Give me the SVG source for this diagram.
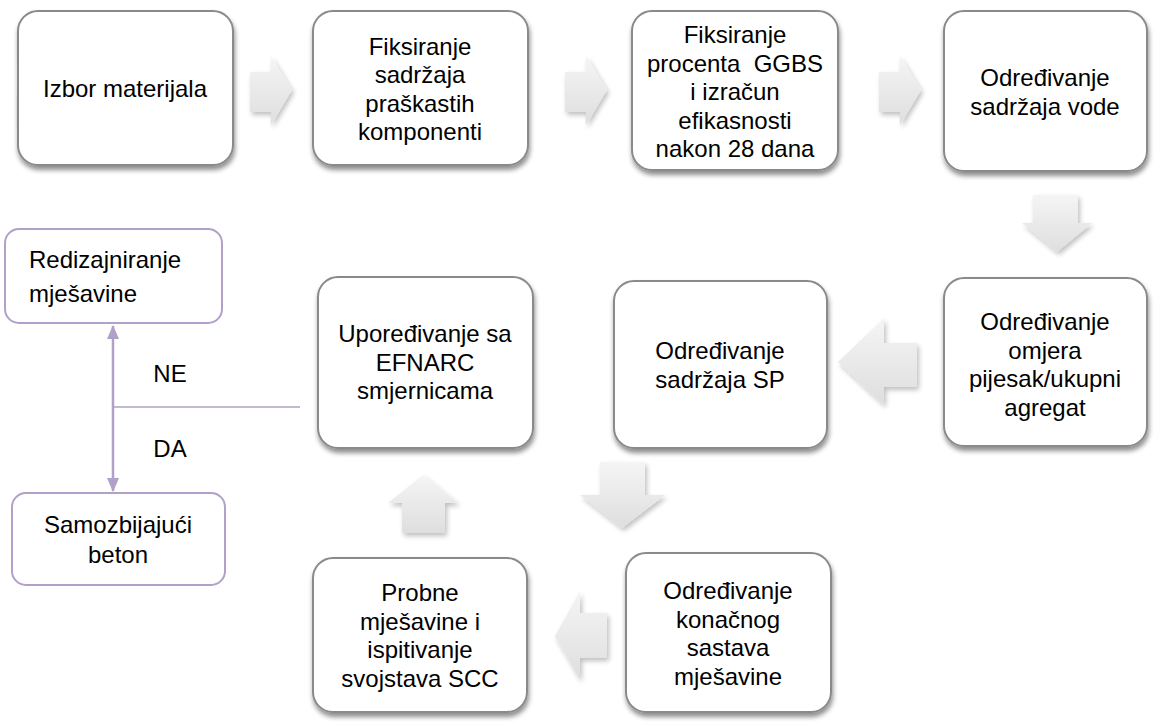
<svg xmlns="http://www.w3.org/2000/svg" width="1165" height="726" viewBox="0 0 1165 726">
<defs>
<filter id="sh" x="-10%" y="-10%" width="125%" height="130%">
<feGaussianBlur in="SourceAlpha" stdDeviation="2.5"/>
<feOffset dx="1" dy="4"/>
<feComponentTransfer><feFuncA type="linear" slope="0.45"/></feComponentTransfer>
<feMerge><feMergeNode/><feMergeNode in="SourceGraphic"/></feMerge>
</filter>
<filter id="ash" x="-20%" y="-20%" width="150%" height="150%">
<feGaussianBlur in="SourceAlpha" stdDeviation="2.5"/>
<feOffset dx="2" dy="3"/>
<feComponentTransfer><feFuncA type="linear" slope="0.25"/></feComponentTransfer>
<feMerge><feMergeNode/><feMergeNode in="SourceGraphic"/></feMerge>
</filter>
<linearGradient id="ag" x1="0" y1="0" x2="0" y2="1">
<stop offset="0" stop-color="#f5f5f5"/>
<stop offset="1" stop-color="#dedede"/>
</linearGradient>
<marker id="pa" viewBox="0 0 14 12" refX="13" refY="6" markerWidth="14" markerHeight="12" orient="auto-start-reverse" markerUnits="userSpaceOnUse">
<path d="M0,0 L14,6 L0,12 z" fill="#b1a0c7"/>
</marker>
<style>
.b{fill:#fff;stroke:#8a8a8a;stroke-width:2;filter:url(#sh)}
.p{fill:#fff;stroke:#b1a0c7;stroke-width:2}
.a{fill:url(#ag);filter:url(#ash)}
text{font-family:"Liberation Sans",Arial,sans-serif;font-size:24px;fill:#000}
.c{text-anchor:middle}
.l{stroke:#b1a0c7;fill:none}
</style>
</defs>
<g id="n1"><rect class="b" x="18" y="11" width="215" height="154" rx="20"/><text class="c" x="125" y="97">Izbor materijala</text></g>
<g id="n2"><rect class="b" x="313" y="11" width="215" height="154" rx="20"/>
<text class="c" x="420" y="55">Fiksiranje</text><text class="c" x="420" y="83">sadržaja</text><text class="c" x="420" y="112">praškastih</text><text class="c" x="420" y="140">komponenti</text></g>
<g id="n3"><rect class="b" x="632" y="11" width="206" height="159" rx="20"/>
<text class="c" x="735" y="43">Fiksiranje</text><text class="c" x="735" y="71.5" xml:space="preserve">procenta  GGBS</text><text class="c" x="735" y="100">i izračun</text><text class="c" x="735" y="128.5">efikasnosti</text><text class="c" x="735" y="157">nakon 28 dana</text></g>
<g id="n4"><rect class="b" x="944" y="11" width="203" height="160" rx="20"/>
<text class="c" x="1045" y="86">Određivanje</text><text class="c" x="1045" y="114.5">sadržaja vode</text></g>
<g id="n5"><rect class="b" x="944" y="278" width="203" height="168" rx="20"/>
<text class="c" x="1045" y="330">Određivanje</text><text class="c" x="1045" y="358.5">omjera</text><text class="c" x="1045" y="387">pijesak/ukupni</text><text class="c" x="1045" y="415.5">agregat</text></g>
<g id="n6"><rect class="b" x="614" y="281" width="213" height="167" rx="20"/>
<text class="c" x="720" y="359">Određivanje</text><text class="c" x="720" y="387.5">sadržaja SP</text></g>
<g id="n7"><rect class="b" x="318" y="277" width="215" height="171" rx="20"/>
<text class="c" x="425" y="342">Upoređivanje sa</text><text class="c" x="425" y="370.5">EFNARC</text><text class="c" x="425" y="399">smjernicama</text></g>
<g id="n8"><rect class="b" x="626" y="553" width="205" height="159" rx="20"/>
<text class="c" x="728" y="599">Određivanje</text><text class="c" x="728" y="627.5">konačnog</text><text class="c" x="728" y="656">sastava</text><text class="c" x="728" y="684.5">mješavine</text></g>
<g id="n9"><rect class="b" x="313" y="558" width="214" height="154" rx="20"/>
<text class="c" x="420" y="601">Probne</text><text class="c" x="420" y="629.5">mješavine i</text><text class="c" x="420" y="658">ispitivanje</text><text class="c" x="420" y="686.5">svojstava SCC</text></g>
<g id="n10"><rect class="p" x="5" y="229" width="217" height="94" rx="14"/>
<text x="29" y="268">Redizajniranje</text><text x="29" y="302">mješavine</text></g>
<g id="n11"><rect class="p" x="12" y="493" width="213" height="92" rx="14"/>
<text class="c" x="118" y="533">Samozbijajući</text><text class="c" x="118" y="563">beton</text></g>
<g id="connectors">
<path class="a" d="M250,72 H271 V56 L292,90 L271,125 V112 H250 Z"/>
<path class="a" d="M565,72 H586 V56 L607,90 L586,125 V112 H565 Z"/>
<path class="a" d="M879,72 H900 V56 L921,90 L900,125 V112 H879 Z"/>
<path class="a" d="M1033,195 H1078 V223 H1092 L1057,252 L1022,223 H1033 Z"/>
<path class="a" d="M917,343 V387 H884 V405 L838,362 L884,318 V343 Z"/>
<path class="a" d="M600,462 H645 V495 H665 L622,528 L580,495 H600 Z"/>
<path class="a" d="M607,613 V658 H580 V680 L555,636 L580,591 V613 Z"/>
<path class="a" d="M402,533 V503 H388 L423,475 L458,503 H445 V533 Z"/>
<line class="l" stroke-width="1.5" x1="113" y1="407" x2="300" y2="407"/>
<line class="l" stroke-width="2.5" x1="113" y1="407" x2="113" y2="326" marker-end="url(#pa)"/>
<line class="l" stroke-width="2.5" x1="113" y1="407" x2="113" y2="491" marker-end="url(#pa)"/>
<text class="c" x="170" y="382">NE</text>
<text class="c" x="170" y="457">DA</text>
</g>
</svg>
